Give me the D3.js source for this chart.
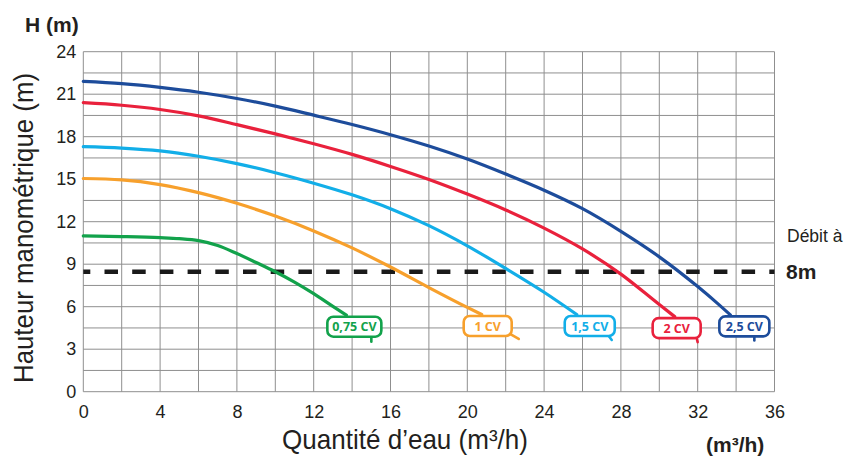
<!DOCTYPE html>
<html>
<head>
<meta charset="utf-8">
<script src="https://cdn.jsdelivr.net/npm/d3@7"></script>
<style>
  body { margin: 0; background: #fff; }
  svg { display: block; }
</style>
</head>
<body>
<div id="chart"></div>
<script>
// pump curves, flow in m3/h and head in m
var seriesNames = ["0,75 CV", "1 CV", "1,5 CV", "2 CV", "2,5 CV"];

var flow075 = [0, 2, 4, 5, 6, 7, 8, 9, 10, 11, 12, 13, 13.7];
var head075 = [11.0, 10.95, 10.87, 10.8, 10.66, 10.32, 9.75, 9.12, 8.47, 7.74, 6.92, 6.02, 5.4];

var flow1 = [0, 2, 4, 6, 8, 10, 12, 14, 16, 18, 20, 20.75];
var head1 = [15.05, 14.95, 14.62, 14.05, 13.3, 12.4, 11.35, 10.15, 8.8, 7.35, 5.95, 5.45];

var flow15 = [0, 2, 4, 6, 8, 10, 12, 14, 16, 18, 20, 22, 24, 25.7];
var head15 = [17.3, 17.2, 17.0, 16.62, 16.1, 15.46, 14.72, 13.9, 12.92, 11.72, 10.3, 8.7, 7.02, 5.45];

var flow2 = [0, 2, 4, 6, 8, 10, 12, 14, 16, 18, 20, 22, 24, 26, 28, 30, 30.8];
var head2 = [20.4, 20.22, 19.92, 19.47, 18.85, 18.2, 17.5, 16.75, 15.9, 14.98, 13.95, 12.83, 11.55, 10.08, 8.3, 6.15, 5.3];

var flow25 = [0, 2, 4, 6, 8, 10, 12, 14, 16, 18, 20, 22, 24, 26, 28, 30, 32, 33, 33.7];
var head25 = [21.9, 21.74, 21.48, 21.14, 20.7, 20.16, 19.52, 18.86, 18.14, 17.34, 16.42, 15.36, 14.22, 12.92, 11.32, 9.52, 7.42, 6.27, 5.42];

var xTicks = [0, 4, 8, 12, 16, 20, 24, 28, 32, 36];
var yTicks = [0, 3, 6, 9, 12, 15, 18, 21, 24];
var dutyHead = 8.47;

var colors = ["#12a24b", "#f7a02c", "#12aee8", "#e9213c", "#1d4c9b"];
// label box: offset of the box left edge from curve end (px), box width, tail
var labelBox = [
  {dx: -19, w: 54, tail: [[-10, 0], [-10, 5]]},
  {dx: -18, w: 48, tail: [[-5, -4], [7, 3]]},
  {dx: -12, w: 50, tail: [[-6, 0], [-3, 4]]},
  {dx: -22, w: 48, tail: [[-4, 0], [-3, 4]]},
  {dx: -11, w: 50, tail: [[-15, 0], [-15, 4]]}
];

var width = 848, height = 457;

var svg = d3.select("#chart")
  .append("svg")
    .attr("width", width)
    .attr("height", height)
    .style("font-family", "'Liberation Sans', Arial, sans-serif");

var x = d3.scaleLinear().domain([0, 36]).range([83.3, 774.5]);
var y = d3.scaleLinear().domain([0, 24]).range([391.7, 51.7]);

// grid
var grid = svg.append("g").attr("stroke", "#8f8f8f").attr("stroke-width", 1);
grid.selectAll(".v")
  .data(d3.range(0, 36.01, 2))
  .enter().append("line")
    .attr("x1", d => x(d)).attr("x2", d => x(d))
    .attr("y1", y(24)).attr("y2", y(0));
grid.selectAll(".h")
  .data(d3.range(0, 24.01, 1.5))
  .enter().append("line")
    .attr("x1", x(0)).attr("x2", x(36))
    .attr("y1", d => y(d)).attr("y2", d => y(d));

// axes, labels only
var xAxis = svg.append("g")
  .attr("transform", "translate(0," + y(0) + ")")
  .call(d3.axisBottom(x).tickValues(xTicks).tickSize(0).tickPadding(14));
var yAxis = svg.append("g")
  .attr("transform", "translate(" + x(0) + ",0)")
  .call(d3.axisLeft(y).tickValues(yTicks).tickSize(0).tickPadding(7));
[xAxis, yAxis].forEach(function(a) {
  a.select(".domain").remove();
  a.selectAll("text")
    .attr("fill", "#231f20")
    .style("font-size", "18px")
    .style("font-family", "'Liberation Sans', Arial, sans-serif");
});

// duty line
svg.append("line")
  .attr("x1", x(0)).attr("x2", x(36))
  .attr("y1", y(dutyHead)).attr("y2", y(dutyHead))
  .attr("stroke", "#1a1a1a")
  .attr("stroke-width", 4.5)
  .attr("stroke-dasharray", "13.5,14.2")
  .attr("stroke-dashoffset", 6.5);

// curves
var flows = [flow075, flow1, flow15, flow2, flow25];
var heads = [head075, head1, head15, head2, head25];
var series = seriesNames.map(function(name, i) {
  return {name: name, pts: flows[i].map((f, j) => [f, heads[i][j]])};
});

var line = d3.line()
  .x(d => x(d[0]))
  .y(d => y(d[1]))
  .curve(d3.curveMonotoneX);

svg.append("g").selectAll("path")
  .data(series)
  .enter().append("path")
    .attr("d", d => line(d.pts))
    .attr("fill", "none")
    .attr("stroke", (d, i) => colors[i])
    .attr("stroke-width", 3.2)
    .attr("stroke-linecap", "round");

// speech-bubble labels at the end of each curve
var labels = svg.append("g").selectAll("g")
  .data(series)
  .enter().append("g")
    .attr("transform", function(d, i) {
      var end = d.pts[d.pts.length - 1];
      return "translate(" + (x(end[0]) + labelBox[i].dx) + "," + (y(end[1]) + 1.5) + ")";
    });

labels.append("path")
  .attr("d", (d, i) => {
    var b = labelBox[i], t = b.tail;
    return "M" + (b.w + t[0][0]) + "," + (20 + t[0][1]) + "L" + (b.w + t[1][0]) + "," + (20 + t[1][1]);
  })
  .attr("stroke", (d, i) => colors[i])
  .attr("stroke-width", 2.6)
  .attr("stroke-linecap", "round");

labels.append("rect")
  .attr("width", (d, i) => labelBox[i].w)
  .attr("height", 20)
  .attr("rx", 6)
  .attr("fill", "#fff")
  .attr("stroke", (d, i) => colors[i])
  .attr("stroke-width", 2.6);

labels.append("text")
  .attr("x", (d, i) => labelBox[i].w / 2)
  .attr("y", 14.6)
  .attr("text-anchor", "middle")
  .attr("fill", (d, i) => colors[i])
  .style("font-family", "'Open Sans', sans-serif")
  .style("font-weight", "bold")
  .style("font-size", "12.5px")
  .text(d => d.name);

// titles
svg.append("text")
  .attr("x", 405).attr("y", 449)
  .attr("text-anchor", "middle")
  .attr("textLength", 246)
  .attr("lengthAdjust", "spacingAndGlyphs")
  .attr("fill", "#231f20")
  .style("font-size", "28px")
  .text("Quantité d’eau (m³/h)");

svg.append("text")
  .attr("transform", "translate(33,228) rotate(-90)")
  .attr("text-anchor", "middle")
  .attr("textLength", 310)
  .attr("lengthAdjust", "spacingAndGlyphs")
  .attr("fill", "#231f20")
  .style("font-size", "28px")
  .text("Hauteur manométrique (m)");

svg.append("text")
  .attr("x", 25).attr("y", 32)
  .attr("fill", "#231f20")
  .style("font-size", "21px")
  .style("font-weight", "bold")
  .text("H (m)");

svg.append("text")
  .attr("x", 706).attr("y", 452)
  .attr("fill", "#231f20")
  .style("font-size", "21px")
  .style("font-weight", "bold")
  .text("(m³/h)");

svg.append("text")
  .attr("x", 787).attr("y", 242)
  .attr("fill", "#231f20")
  .style("font-size", "17.5px")
  .text("Débit à");

svg.append("text")
  .attr("x", 786).attr("y", 279)
  .attr("fill", "#231f20")
  .style("font-size", "21px")
  .style("font-weight", "bold")
  .text("8m");
</script>
</body>
</html>
